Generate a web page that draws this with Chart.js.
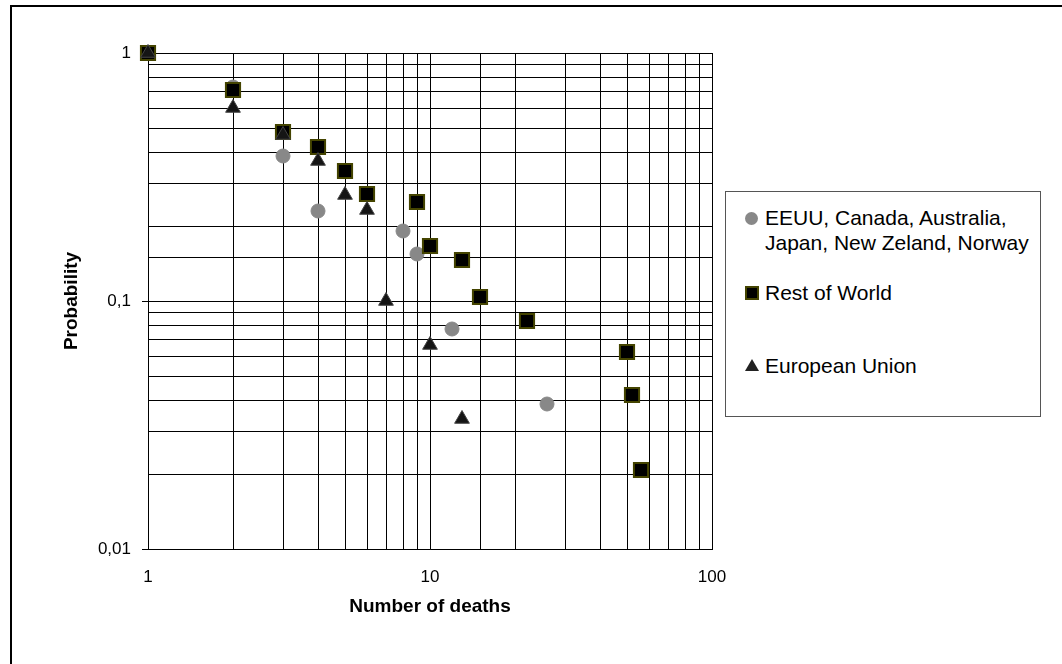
<!DOCTYPE html>
<html>
<head>
<meta charset="utf-8">
<script src="https://cdn.jsdelivr.net/npm/chart.js@4/dist/chart.umd.min.js"></script>
<style>
    body { margin: 0; background: #fff; overflow: hidden; font-family: Arial, "Liberation Sans", sans-serif; }
    #wrap { position: relative; width: 1062px; height: 664px; overflow: hidden; }
    #myChart { position: absolute; left: 0; top: 0; }
    #frame { position: absolute; left: 10px; top: 5px; width: 1100px; height: 700px; border-left: 2px solid #000; border-top: 2px solid #000; }
    #legend { position: absolute; left: 725px; top: 191px; width: 314px; height: 224px; border: 1px solid #555; background: #fff; }
    .item { position: absolute; left: 39px; font-size: 21px; line-height: 25px; color: #000; white-space: nowrap; }
    .mk { position: absolute; }
</style>
</head>
<body>
<div id="wrap">
    <canvas id="myChart" width="1062" height="664"></canvas>
    <div id="frame"></div>
    <div id="legend">
        <div class="mk" style="left:19px;top:20px;width:13px;height:13px;border-radius:50%;background:#888;"></div>
        <div class="item" style="top:13px;">EEUU, Canada, Australia,<br>Japan, New Zeland, Norway</div>
        <div class="mk" style="left:19px;top:94px;width:10px;height:10px;background:#000;border:2px solid #444400;"></div>
        <div class="item" style="top:88px;">Rest of World</div>
        <div class="mk" style="left:19px;top:167px;width:0;height:0;border-left:7px solid transparent;border-right:7px solid transparent;border-bottom:12px solid #222;"></div>
        <div class="item" style="top:161px;">European Union</div>
    </div>
</div>
<script>
// EEUU, Canada, Australia, Japan, New Zeland, Norway
const usDeaths = [1, 2, 3, 4, 8, 9, 12, 26];
const usProb = [1, 0.73, 0.385, 0.231, 0.192, 0.154, 0.077, 0.0385];

// Rest of World
const rowDeaths = [1, 2, 3, 4, 5, 6, 9, 10, 13, 15, 22, 50, 52, 56];
const rowProb = [1, 0.708, 0.479, 0.417, 0.333, 0.271, 0.25, 0.167, 0.146, 0.104, 0.0833, 0.0625, 0.0417, 0.0208];

// European Union
const euDeaths = [1, 2, 3, 4, 5, 6, 7, 10, 13];
const euProb = [1, 0.6, 0.467, 0.367, 0.267, 0.233, 0.1, 0.0667, 0.0333];

const xRange = [1, 100];
const yRange = [0.01, 1];

const toPoints = (xs, ys) => xs.map((x, i) => ({ x: x, y: ys[i] }));

const isDecade = v => Math.abs(Math.log10(v) - Math.round(Math.log10(v))) < 1e-9;
const fmt = v => String(+v.toPrecision(6)).replace('.', ',');

const tickFont = { family: 'Arial, "Liberation Sans", sans-serif', size: 17 };
const titleFont = { family: 'Arial, "Liberation Sans", sans-serif', size: 19, weight: 'bold' };

const ctx = document.getElementById('myChart').getContext('2d');

const myChart = new Chart(ctx, {
    type: 'scatter',
    data: {
        datasets: [
            {
                label: 'European Union',
                data: toPoints(euDeaths, euProb),
                pointStyle: 'triangle',
                pointRadius: 8.5,
                backgroundColor: '#151515',
                borderColor: '#444',
                borderWidth: 1,
                clip: false,
                order: 1
            },
            {
                label: 'Rest of World',
                data: toPoints(rowDeaths, rowProb),
                pointStyle: 'rect',
                pointRadius: 10,
                backgroundColor: '#000',
                borderColor: '#444400',
                borderWidth: 2,
                clip: false,
                order: 2
            },
            {
                label: 'EEUU, Canada, Australia, Japan, New Zeland, Norway',
                data: toPoints(usDeaths, usProb),
                pointStyle: 'circle',
                pointRadius: 7,
                backgroundColor: '#888',
                borderColor: '#888',
                borderWidth: 1,
                clip: false,
                order: 3
            }
        ]
    },
    options: {
        responsive: false,
        animation: false,
        events: [],
        layout: { padding: { top: 53, right: 350, bottom: 0, left: 0 } },
        plugins: {
            legend: { display: false },
            tooltip: { enabled: false }
        },
        scales: {
            x: {
                type: 'logarithmic',
                min: xRange[0],
                max: xRange[1],
                alignToPixels: true,
                afterFit: s => { s.height = 115; s.paddingLeft = 0; s.paddingRight = 0; },
                grid: { color: '#000', lineWidth: 1, drawTicks: false },
                border: { color: '#000', width: 1 },
                ticks: {
                    autoSkip: false,
                    maxRotation: 0,
                    padding: 18,
                    color: '#000',
                    font: tickFont,
                    callback: v => isDecade(v) ? fmt(v) : ''
                },
                title: {
                    display: true,
                    text: 'Number of deaths',
                    color: '#000',
                    font: titleFont,
                    padding: { top: 0, bottom: 46 }
                }
            },
            y: {
                type: 'logarithmic',
                min: yRange[0],
                max: yRange[1],
                alignToPixels: true,
                afterFit: s => { s.width = 148; s.paddingTop = 0; s.paddingBottom = 0; },
                grid: {
                    color: '#000',
                    lineWidth: 1,
                    tickLength: 6,
                    tickColor: c => (c.tick && isDecade(c.tick.value)) ? '#000' : 'rgba(0,0,0,0)'
                },
                border: { color: '#000', width: 1 },
                ticks: {
                    autoSkip: false,
                    padding: 11,
                    color: '#000',
                    font: tickFont,
                    callback: v => isDecade(v) ? fmt(v) : ''
                },
                title: {
                    display: true,
                    text: 'Probability',
                    color: '#000',
                    font: titleFont,
                    padding: { top: 60, bottom: 0 }
                }
            }
        }
    }
});
</script>
</body>
</html>
